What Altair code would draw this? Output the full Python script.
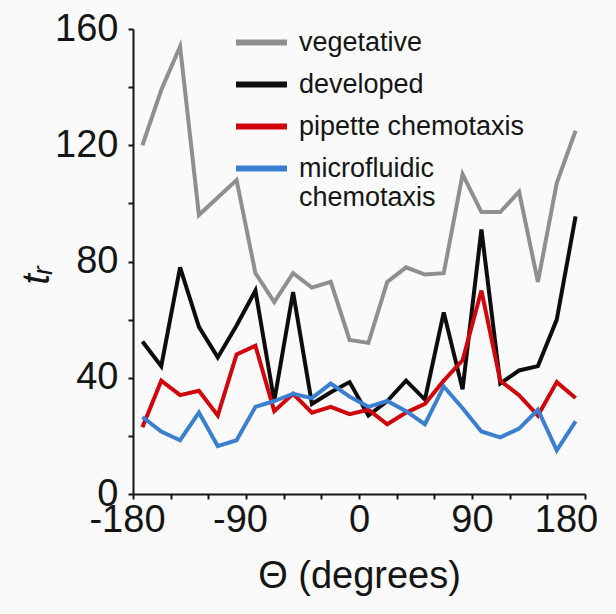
import altair as alt
import pandas as pd

# bin centres (degrees)
theta = [-172.5, -157.5, -142.5, -127.5, -112.5, -97.5, -82.5, -67.5, -52.5, -37.5, -22.5, -7.5,
         7.5, 22.5, 37.5, 52.5, 67.5, 82.5, 97.5, 112.5, 127.5, 142.5, 157.5, 172.5]

vegetative = [120, 139, 154, 96, 102, 108, 76, 66, 76, 71, 73, 53,
              52, 73, 78, 75.5, 76, 110, 97, 97, 104, 73, 107, 125]
developed = [52.5, 44, 78, 57.5, 47, 58, 70, 32, 69.5, 31, 35, 38.5,
             27, 32, 39, 32.5, 62.5, 36, 91, 38, 42.5, 44, 60, 95.5]
pipette = [23, 39, 34, 35.5, 27, 48, 51, 28.5, 34.5, 28, 30, 27.5,
           29, 24, 28, 31, 39, 46, 70, 39, 34, 27, 38.5, 33]
microfluidic = [26.5, 21.5, 18.5, 28, 16.5, 18.5, 30, 32, 34.5, 33, 38, 33.5,
                30, 32, 28.5, 24, 37, 29.5, 21.5, 19.5, 22.5, 29, 15, 25]

series_names = ["vegetative", "developed", "pipette chemotaxis", "microfluidic chemotaxis"]
series_colors = ["#8f8f8f", "#0d0d0d", "#d0060c", "#3b80d0"]

x_ticks = [-180, -150, -120, -90, -60, -30, 0, 30, 60, 90, 120, 150, 180]
y_ticks = [0, 20, 40, 60, 80, 100, 120, 140, 160]

rows = []
for k, (name, vals) in enumerate(zip(series_names, [vegetative, developed, pipette, microfluidic])):
    for t, v in zip(theta, vals):
        rows.append({"theta": t, "tr": v, "series": name, "k": k})
df = pd.DataFrame(rows)

FONT = "Liberation Sans"
INK = "#151515"

chart = alt.Chart(df).mark_line(strokeWidth=4).encode(
    x=alt.X(
        "theta:Q",
        scale=alt.Scale(domain=[-180, 180], nice=False, zero=False),
        axis=alt.Axis(
            values=x_ticks,
            labelExpr="datum.value % 90 == 0 ? toString(datum.value) : ''",
            labelFlush=False,
            labelOverlap=False,
            labelOffset={"condition": [{"test": "datum.value == 180", "value": -19},
                                       {"test": "datum.value < 0", "value": -6}],
                         "value": 0},
            labelPadding=2,
            title="Θ (degrees)",
            titlePadding=18,
        ),
    ),
    y=alt.Y(
        "tr:Q",
        scale=alt.Scale(domain=[0, 160], nice=False),
        axis=alt.Axis(
            values=y_ticks,
            labelExpr="datum.value % 40 == 0 ? datum.label : ''",
            labelOverlap=False,
            labelPadding=10,
            title="tᵣ",
            titleFontStyle="italic",
            titlePadding=-2,
            titleY=246,
        ),
    ),
    color=alt.Color(
        "series:N",
        sort=series_names,
        scale=alt.Scale(domain=series_names, range=series_colors),
        legend=alt.Legend(
            orient="none",
            legendX=100,
            legendY=-15,
            title=None,
            symbolType="stroke",
            symbolSize=2601,
            symbolStrokeWidth=6,
            labelFont=FONT,
            labelFontSize=27,
            labelColor=INK,
            labelOffset=9,
            labelLimit=400,
            rowPadding=-10,
            padding=0,
            labelExpr="datum.label == 'microfluidic chemotaxis' ? ['microfluidic', 'chemotaxis'] : datum.label",
        ),
    ),
    order=alt.Order("k:Q"),
).properties(
    width=452,
    height=465,
    autosize=alt.AutoSizeParams(type="none"),
    padding={"left": 133, "top": 29, "right": 31, "bottom": 120},
    background="#fafafa",
).configure_view(
    stroke=None,
).configure_axis(
    grid=False,
    domainColor=INK,
    domainWidth=2,
    tickColor=INK,
    tickWidth=2,
    tickSize=5,
    labelFont=FONT,
    labelFontSize=38,
    labelColor=INK,
    titleFont=FONT,
    titleFontSize=38,
    titleFontWeight="normal",
    titleColor=INK,
)

chart.save("out.html", embed_options={"renderer": "svg", "actions": False})
